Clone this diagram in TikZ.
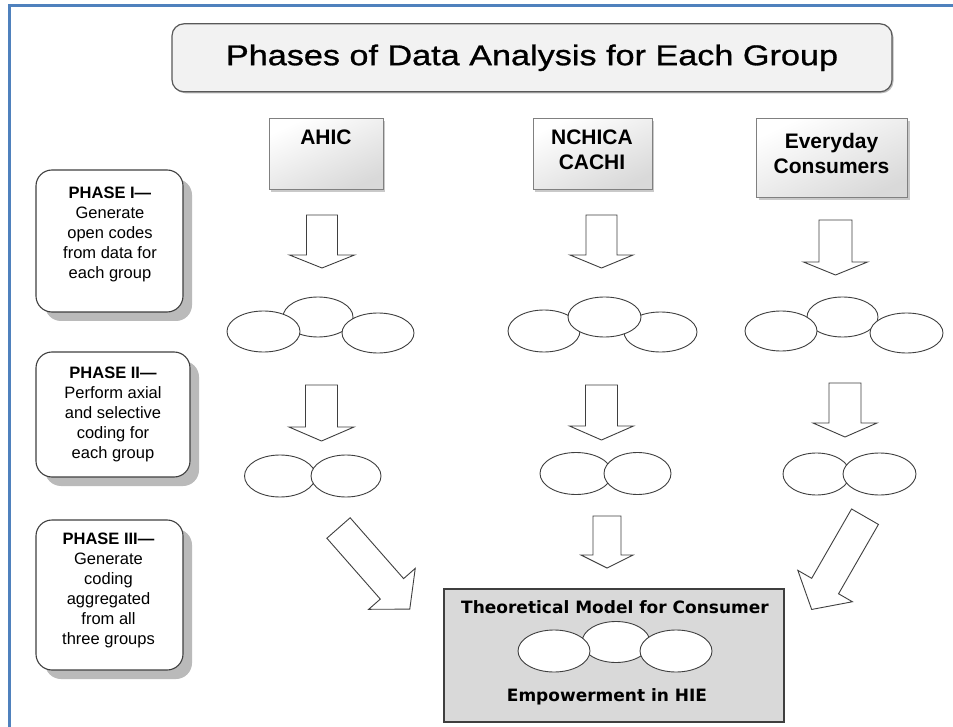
\documentclass[tikz,border=0pt]{standalone}
\usepackage{fontspec}
\setmainfont{Liberation Sans}
\newfontfamily\titlefont[FakeStretch=1.2,FakeBold=1]{Liberation Sans}
\newfontfamily\verdfont{DejaVu Sans}
\usetikzlibrary{shapes.geometric,shadows}
\definecolor{framebl}{HTML}{4F81BD}
\definecolor{edgegray}{HTML}{3F3F3F}
\tikzset{
  titlebox/.style={draw=black!65, fill=black!5, line width=1.2pt, rounded corners=12pt,
    drop shadow={shadow xshift=1.5pt, shadow yshift=-1.5pt, opacity=0.45, fill=black!60}},
  phasebox/.style={draw=edgegray, fill=white, line width=1.1pt, rounded corners=16pt,
    drop shadow={shadow xshift=9pt, shadow yshift=-9pt, fill=black!27, opacity=1}},
  phasetext/.style={inner sep=0pt, align=center, font=\fontsize{16.5}{20}\selectfont},
  groupbox/.style={draw=black!50, line width=1pt, top color=white, bottom color=black!15, shading angle=25,
    drop shadow={shadow xshift=2pt, shadow yshift=-2pt, opacity=0.35, fill=black!60}},
  grouptext/.style={inner sep=0pt, align=center, font=\fontsize{21}{25}\selectfont\bfseries},
  modelbox/.style={draw=edgegray, fill=black!15, line width=1.1pt},
  modeltext/.style={inner sep=0pt, align=center, font=\verdfont\fontsize{17}{20}\selectfont\bfseries},
  ell/.style={ellipse, draw=edgegray, fill=white, line width=0.9pt, inner sep=0pt},
  arrowline/.style={draw=edgegray, fill=white, line width=0.9pt, line join=miter},
  pics/barrow/.style args={#1/#2/#3/#4}{code={
    \draw[arrowline] (0,-#3/2) -- (#1,-#3/2) -- (#1,-#4/2) -- ({#1+#2},0) -- (#1,#4/2) -- (#1,#3/2) -- (0,#3/2) -- cycle;
  }}
}
\begin{document}
\begin{tikzpicture}[x=1pt,y=-1pt]
\useasboundingbox (0,0) rectangle (953,727);
\clip (0,0) rectangle (953,727);
\fill[white] (0,0) rectangle (953,727);
\draw[framebl, line width=2.5pt] (9.5,5.5) rectangle (990,770);

% title
\node[titlebox, minimum width=720, minimum height=68] (title) at (532,57.8)
  {\titlefont\fontsize{28.5}{34}\selectfont Phases of Data Analysis for Each Group};

% phase boxes
\node[phasebox, minimum width=147, minimum height=142] (p1) at (109.5,241) {};
\node[phasetext, anchor=north] (p1t) at (110,187) {\textbf{PHASE I—}\\Generate\\open codes\\from data for\\each group};
\node[phasebox, minimum width=154, minimum height=125] (p2) at (113,414.5) {};
\node[phasetext, anchor=north] (p2t) at (113,367) {\textbf{PHASE II—}\\Perform axial\\and selective\\coding for\\each group};
\node[phasebox, minimum width=147, minimum height=150] (p3) at (109.5,595) {};
\node[phasetext, anchor=north] (p3t) at (108.5,533) {\textbf{PHASE III—}\\Generate\\coding\\aggregated\\from all\\three groups};

% group boxes
\node[groupbox, minimum width=114, minimum height=71] (g1) at (326,154.5) {};
\node[grouptext, anchor=north] (g1t) at (326,130) {AHIC};
\node[groupbox, minimum width=119, minimum height=71] (g2) at (592.5,154.5) {};
\node[grouptext, anchor=north] (g2t) at (592,130) {NCHICA\\CACHI};
\node[groupbox, minimum width=151, minimum height=79] (g3) at (832.3,158.5) {};
\node[grouptext, anchor=north] (g3t) at (831.5,133) {Everyday\\Consumers};

% arrows row 1
\pic[rotate=-90] at (322,215) {barrow=40/13/31/65};
\pic[rotate=-90] at (601.5,215) {barrow=40/13/31/63};
\pic[rotate=-90] at (835.5,220) {barrow=42/13/33/64};

% ellipses row 1
\node[ell, minimum width=70, minimum height=40] (a1m) at (318,317) {};
\node[ell, minimum width=73, minimum height=41] (a1l) at (263.5,331.5) {};
\node[ell, minimum width=72, minimum height=40] (a1r) at (378,333) {};

\node[ell, minimum width=72, minimum height=42] (b1l) at (544,331) {};
\node[ell, minimum width=73, minimum height=40] (b1r) at (660.5,332) {};
\node[ell, minimum width=73, minimum height=40] (b1m) at (604.5,317) {};

\node[ell, minimum width=71, minimum height=40] (c1m) at (842.5,317) {};
\node[ell, minimum width=72, minimum height=40] (c1l) at (781,331) {};
\node[ell, minimum width=73, minimum height=40] (c1r) at (906.5,333) {};

% arrows row 2
\pic[rotate=-90] at (321.5,385) {barrow=42/14/32/65};
\pic[rotate=-90] at (601.5,385) {barrow=41/14/32/64};
\pic[rotate=-90] at (845,383) {barrow=40/14/32/64};

% ellipses row 2
\node[ell, minimum width=71, minimum height=42] (a2l) at (280,476) {};
\node[ell, minimum width=70, minimum height=42] (a2r) at (346,476) {};
\node[ell, minimum width=72, minimum height=42] (b2l) at (576,473.5) {};
\node[ell, minimum width=67, minimum height=42] (b2r) at (637.5,473.5) {};
\node[ell, minimum width=67, minimum height=42] (c2l) at (816.5,474) {};
\node[ell, minimum width=73, minimum height=42] (c2r) at (879.5,474) {};

% arrows row 3
\pic[rotate=-48.7] at (338.5,528) {barrow=81/27/31/62};
\pic[rotate=-90] at (607,516) {barrow=39/13/28/52};
\pic[rotate=-119.9] at (865,516.7) {barrow=80/27/31/63};

% model box
\node[modelbox, minimum width=340, minimum height=133] (model) at (614,655.5) {};
\node[modeltext, anchor=north] (mt1) at (615,600) {Theoretical Model for Consumer};
\node[ell, minimum width=68, minimum height=41] (mm) at (616,642) {};
\node[ell, minimum width=72, minimum height=42] (ml) at (554,651) {};
\node[ell, minimum width=72, minimum height=42] (mr) at (676,651) {};
\node[modeltext, anchor=north] (mt2) at (607,688) {Empowerment in HIE};
\end{tikzpicture}
\end{document}
